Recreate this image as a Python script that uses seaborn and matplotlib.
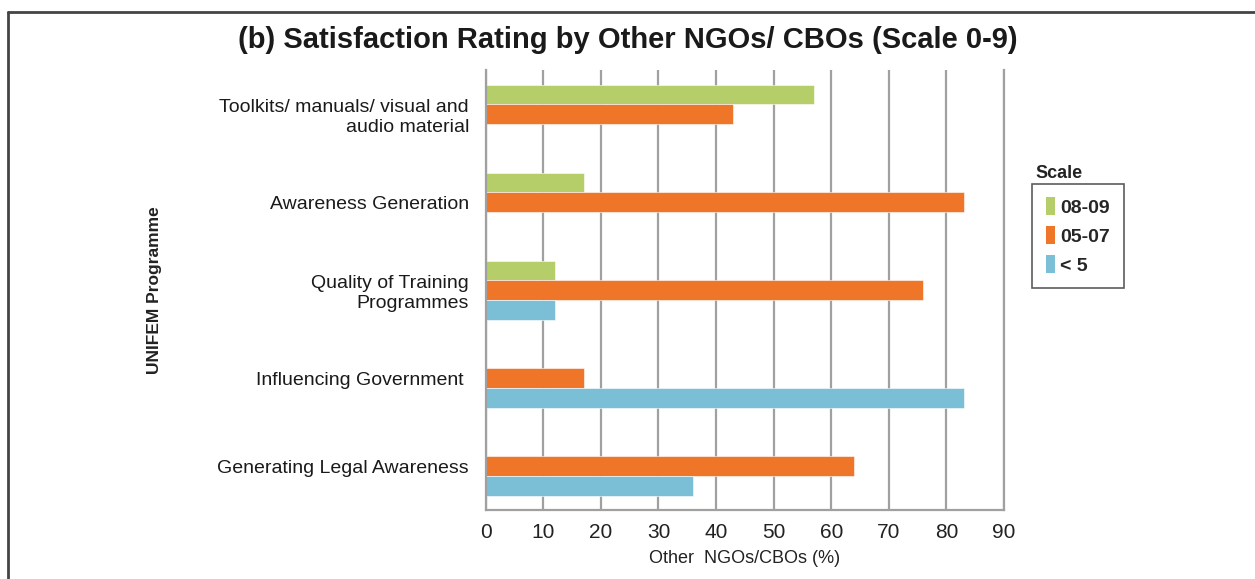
import matplotlib
matplotlib.use("Agg")
import matplotlib.pyplot as plt
from matplotlib.lines import Line2D
from matplotlib.patches import Patch
import pandas as pd
import seaborn as sns

# data
programmes = ["Toolkits/ manuals/ visual and\naudio material", "Awareness Generation",
              "Quality of Training\nProgrammes", "Influencing Government ",
              "Generating Legal Awareness"]
scales = ["08-09", "05-07", "< 5"]
score_08_09 = [57, 17, 12, 0, 0]
score_05_07 = [43, 83, 76, 17, 64]
score_lt5 = [0, 0, 12, 83, 36]
colors = ["#B5CE6A", "#EF7529", "#7BBFD6"]

rows = []
for i, p in enumerate(programmes):
    for s, vals in zip(scales, [score_08_09, score_05_07, score_lt5]):
        rows.append({"programme": p, "scale": s, "value": vals[i]})
df = pd.DataFrame(rows)

sns.set_style("white")
plt.rcParams["font.family"] = ["Liberation Sans", "DejaVu Sans"]

fig = plt.figure(figsize=(12.55, 5.79), dpi=100)
ax = fig.add_axes([0.387, 0.119, 0.413, 0.760])

sns.barplot(data=df, x="value", y="programme", hue="scale", hue_order=scales,
            palette=colors, orient="h", width=0.67, saturation=1, ax=ax, legend=False,
            edgecolor="white", linewidth=0.4)

ax.set_xlim(0, 90)
ax.set_xticks(range(0, 91, 10))
ax.tick_params(axis="x", labelsize=15, length=5, color="#999999", labelcolor="#222222", pad=4)
ax.tick_params(axis="y", labelsize=14, length=0, pad=12, labelcolor="#1a1a1a")
ax.xaxis.grid(True, color="#A0A0A0", linewidth=1.6)
ax.set_axisbelow(True)
ax.spines["top"].set_visible(False)
for sp in ["left", "bottom", "right"]:
    ax.spines[sp].set_color("#A0A0A0")
    ax.spines[sp].set_linewidth(1.6)

ax.set_xlabel("Other  NGOs/CBOs (%)", fontsize=13, color="#222222", labelpad=6)
ax.set_ylabel("UNIFEM Programme", fontsize=12.5, fontweight="bold", color="#222222")
ax.yaxis.set_label_coords(-0.625, 0.5)

fig.suptitle("(b) Satisfaction Rating by Other NGOs/ CBOs (Scale 0-9)",
             x=0.5, y=0.955, fontsize=21, fontweight="bold", color="#1a1a1a")

handles = [Patch(facecolor=c, edgecolor="none") for c in colors]
leg = fig.legend(handles, scales, loc="upper left", bbox_to_anchor=(0.8225, 0.683),
                 frameon=True, fancybox=False, edgecolor="#333333",
                 prop={"size": 14, "weight": "bold"}, handlelength=0.45, handleheight=1.0,
                 handletextpad=0.3, labelspacing=0.5, borderpad=0.7, borderaxespad=0)
leg.get_frame().set_linewidth(1.2)
fig.text(0.825, 0.692, "Scale", fontsize=13, fontweight="bold", color="#222222")

# page frame
fig.add_artist(Line2D([0.006, 1.0], [0.979, 0.979], color="#444444", linewidth=2))
fig.add_artist(Line2D([0.006, 0.006], [0.0, 0.979], color="#444444", linewidth=2))

fig.savefig("out.png", dpi=100)
